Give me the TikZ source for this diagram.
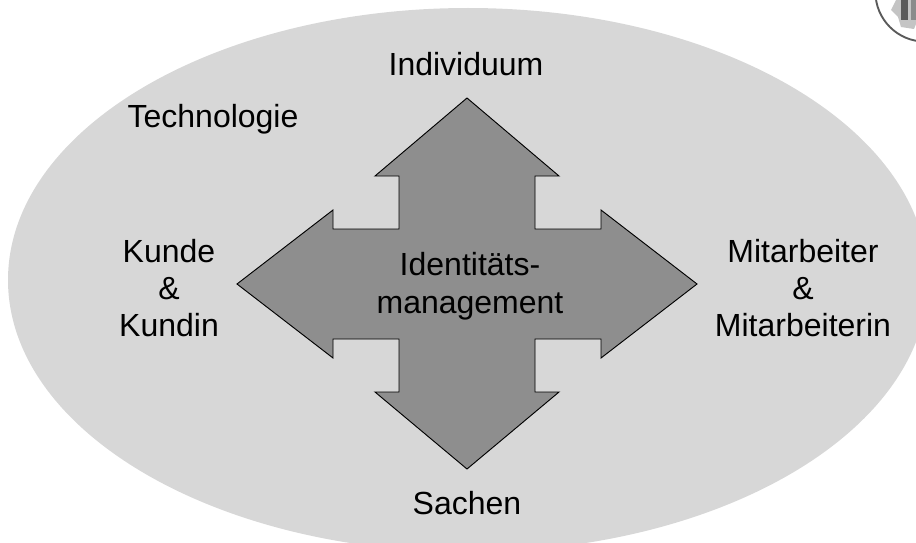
\documentclass[tikz,border=0pt]{standalone}
\usepackage{fontspec}
\setmainfont{Liberation Sans}
\definecolor{ellgray}{HTML}{D7D7D7}
\definecolor{arrowgray}{HTML}{8E8E8E}
\definecolor{logogray}{HTML}{5A5A5A}
\definecolor{logoblob}{HTML}{C4C4C4}
\tikzset{
  x=0.75pt,y=-0.75pt,
  lbl/.style={align=center,font=\fontsize{24}{28}\selectfont,inner sep=0pt,text=black},
  hub/.style={fill=arrowgray,draw=black,line width=0.7pt,line join=miter}
}
\begin{document}
\begin{tikzpicture}
\useasboundingbox (0,0) rectangle (916,542);
\begin{scope}
\clip (0,0) rectangle (916,542);
\fill[ellgray] (468,280) ellipse [x radius=460,y radius=272];
% logo
\fill[white] (873,0) rectangle (916,43);
\fill[logoblob] (896,0) -- (891,10) -- (898,17) -- (901,27) -- (914,29) -- (916,24) -- (916,0) -- cycle;
\fill[logogray] (901,0) rectangle (908,20);
\fill[logogray!70] (911,0) rectangle (916,20);
\draw[logogray,line width=1.4pt] (925,-8) circle [radius=49.6];
\end{scope}
\draw[hub] (467,98) -- (559,176) -- (535,176) -- (535,229) -- (601,229) -- (601,210) -- (697,284)
 -- (601,358) -- (601,339) -- (535,339) -- (535,392) -- (559,392) -- (467,469) -- (375,392)
 -- (399,392) -- (399,339) -- (333,339) -- (333,358) -- (237,284) -- (333,210) -- (333,229)
 -- (399,229) -- (399,176) -- (375,176) -- cycle;
\node[lbl] (ind) at (466,64) {Individuum};
\node[lbl] (tech) at (213,119) {Technologie};
\node[lbl] (kunde) at (169,288) {Kunde\\\&\\Kundin};
\node[lbl] (mit) at (803,288) {Mitarbeiter\\\&\\Mitarbeiterin};
\node[lbl,font=\fontsize{24}{28.5}\selectfont] (idm) at (470,286) {Identitäts-\\management};
\node[lbl] (sach) at (467,503) {Sachen};
\end{tikzpicture}
\end{document}
